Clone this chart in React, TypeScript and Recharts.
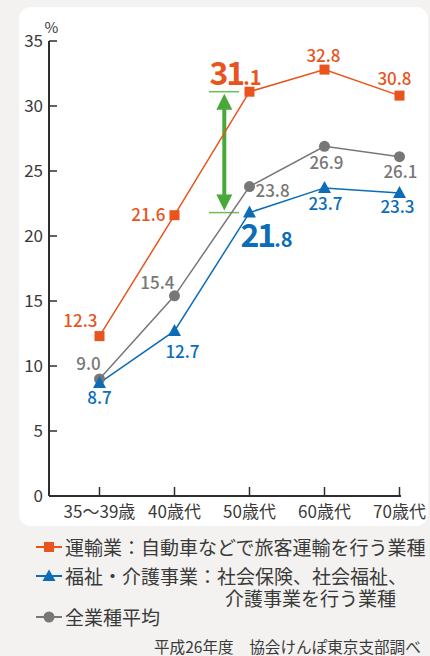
import React from "react";
import { LineChart, Line, XAxis, YAxis, ReferenceLine, LabelList } from "recharts";

// 年齢階級別 データ (%)
const categories = ["35～39歳", "40歳代", "50歳代", "60歳代", "70歳代"];
const transport = [12.3, 21.6, 31.1, 32.8, 30.8];
const welfare = [8.7, 12.7, 21.8, 23.7, 23.3];
const average = [9.0, 15.4, 23.8, 26.9, 26.1];
const yTicks = [0, 5, 10, 15, 20, 25, 30, 35];
const xTicks = [0, 1, 2, 3, 4];
const gapIndex = 2;

const legendLines = [
  "運輸業：自動車などで旅客運輸を行う業種",
  "福祉・介護事業：社会保険、社会福祉、",
  "介護事業を行う業種",
  "全業種平均",
];
const sourceNote = "平成26年度　協会けんぽ東京支部調べ";

const ORANGE = "#e9541c";
const BLUE = "#0b6db7";
const GRAY = "#777777";
const GREEN = "#48a838";
const LIGHT_GREEN = "#6fbd55";
const AXIS = "#2e2e2e";
const TEXT = "#3a3a3a";
const BG = "#f3f2f0";
const FONT = "'Noto Sans CJK JP', 'Noto Sans', sans-serif";

const data = categories.map((name, idx) => ({
  idx,
  name,
  transport: transport[idx],
  welfare: welfare[idx],
  average: average[idx],
}));

// label placement: [anchor, dx, dy]
type Pos = ["start" | "middle" | "end", number, number];
const transportPos: Pos[] = [
  ["end", -2, -9],
  ["end", -9, 6],
  ["start", -40, -7],
  ["middle", -1, -8],
  ["middle", -5, -11],
];
const averagePos: Pos[] = [
  ["middle", -11, -9],
  ["end", 0, -7],
  ["start", 6, 10],
  ["middle", 2, 23],
  ["middle", 1, 21],
];
const welfarePos: Pos[] = [
  ["middle", 0, 21],
  ["middle", 8, 27],
  ["start", -9, 34],
  ["middle", 1, 22],
  ["middle", -2, 20],
];

const makeLabel = (positions: Pos[], color: string, big: boolean) => (props: any) => {
  const { index, value } = props;
  const x = props.x ?? props.viewBox?.x;
  const y = props.y ?? props.viewBox?.y;
  if (x == null || y == null || value == null) return null;
  const [anchor, dx, dy] = positions[index];
  const txt = Number(value).toFixed(1);
  if (big && index === gapIndex) {
    const [a, b] = txt.split(".");
    return (
      <text x={x + dx} y={y + dy} textAnchor="start" fill={color} fontWeight={700} fontFamily={FONT}>
        <tspan fontSize={32} letterSpacing={-2}>{a}</tspan>
        <tspan fontSize={20}>.{b}</tspan>
      </text>
    );
  }
  return (
    <text x={x + dx} y={y + dy} textAnchor={anchor} fill={color} fontSize={17} fontWeight={500} fontFamily={FONT}>
      {txt}
    </text>
  );
};

const squareDot = (p: any) => (
  <rect key={`s-${p.index}`} x={p.cx - 5} y={p.cy - 5} width={10} height={10} fill={ORANGE} />
);
const triangleDot = (p: any) => (
  <polygon
    key={`t-${p.index}`}
    points={`${p.cx},${p.cy - 7} ${p.cx - 6.5},${p.cy + 5} ${p.cx + 6.5},${p.cy + 5}`}
    fill={BLUE}
  />
);
const circleDot = (p: any) => <circle key={`c-${p.index}`} cx={p.cx} cy={p.cy} r={5.5} fill={GRAY} />;

const XTick = (props: any) => {
  const { x, y, payload } = props;
  return (
    <g>
      <line x1={x} x2={x} y1={y} y2={y - 9} stroke={AXIS} strokeWidth={1.5} />
      <text x={x} y={y + 22} textAnchor="middle" fontSize={17} fill={TEXT} fontFamily={FONT}>
        {categories[payload.value]}
      </text>
    </g>
  );
};

const YTick = (props: any) => {
  const { x, y, payload } = props;
  return (
    <g>
      <line x1={x} x2={x + 8} y1={y} y2={y} stroke={AXIS} strokeWidth={1.5} />
      <text x={x - 6} y={y + 6} textAnchor="end" fontSize={17} fill={TEXT} fontFamily={FONT}>
        {payload.value}
      </text>
    </g>
  );
};

const GapArrow = (p: any) => {
  const { x1, y1, y2 } = p;
  if (x1 == null) return null;
  const top = Math.min(y1, y2) + 2;
  const bot = Math.max(y1, y2) - 2;
  const head = 16;
  const hw = 8;
  return (
    <g>
      <line x1={x1} x2={x1} y1={top + head - 2} y2={bot - head + 2} stroke={GREEN} strokeWidth={4} />
      <polygon points={`${x1},${top} ${x1 - hw},${top + head} ${x1 + hw},${top + head}`} fill={GREEN} />
      <polygon points={`${x1},${bot} ${x1 - hw},${bot - head} ${x1 + hw},${bot - head}`} fill={GREEN} />
    </g>
  );
};

const LegendMarker = ({ color, kind, cy }: { color: string; kind: string; cy: number }) => (
  <svg width={26} height={16} style={{ position: "absolute", left: 36, top: cy - 8 }}>
    <line x1={0} x2={26} y1={8} y2={8} stroke={color} strokeWidth={2} />
    {kind === "square" && <rect x={8} y={3} width={10} height={10} fill={color} />}
    {kind === "triangle" && <polygon points="13,1.5 6.5,13 19.5,13" fill={color} />}
    {kind === "circle" && <circle cx={13} cy={8} r={5.5} fill={color} />}
  </svg>
);

const legendText = (text: string, left: number, cy: number, size = 19) => (
  <div
    style={{
      position: "absolute",
      left,
      top: cy - 10,
      height: 20,
      lineHeight: "20px",
      fontSize: size,
      color: TEXT,
      whiteSpace: "nowrap",
      fontFamily: FONT,
    }}
  >
    {text}
  </div>
);

export default function App() {
  return (
    <div
      style={{
        position: "fixed",
        left: 0,
        top: 0,
        width: 430,
        height: 656,
        background: BG,
        overflow: "hidden",
        fontFamily: FONT,
      }}
    >
      <div
        style={{
          position: "absolute",
          left: 19,
          top: 7,
          width: 409,
          height: 519,
          background: "#ffffff",
          borderRadius: 12,
        }}
      />
      <div style={{ position: "absolute", left: 0, top: 0 }}>
        <LineChart width={430} height={656} data={data} margin={{ top: 41, right: 29, bottom: 159, left: 48 }}>
          <XAxis
            type="number"
            dataKey="idx"
            domain={[-0.6733, 4.02]}
            ticks={xTicks}
            interval={0}
            height={1}
            tickSize={0}
            tickMargin={0}
            tickLine={false}
            tick={<XTick />}
            axisLine={{ stroke: AXIS, strokeWidth: 2 }}
          />
          <YAxis
            type="number"
            domain={[0, 35]}
            ticks={yTicks}
            interval={0}
            width={1}
            tickSize={0}
            tickMargin={0}
            tickLine={false}
            tick={<YTick />}
            axisLine={{ stroke: AXIS, strokeWidth: 2 }}
            label={{ value: "%", position: "top", offset: 8, dx: 3, fontSize: 15, fill: TEXT, fontFamily: FONT }}
          />
          <ReferenceLine
            segment={[
              { x: 1.46, y: transport[gapIndex] },
              { x: 1.86, y: transport[gapIndex] },
            ]}
            stroke={LIGHT_GREEN}
            strokeWidth={1.5}
          />
          <ReferenceLine
            segment={[
              { x: 1.46, y: welfare[gapIndex] },
              { x: 1.86, y: welfare[gapIndex] },
            ]}
            stroke={LIGHT_GREEN}
            strokeWidth={1.5}
          />
          <ReferenceLine
            segment={[
              { x: 1.664, y: transport[gapIndex] },
              { x: 1.664, y: welfare[gapIndex] },
            ]}
            stroke={GREEN}
            shape={<GapArrow />}
          />
          <Line
            dataKey="average"
            stroke={GRAY}
            strokeWidth={1.5}
            dot={circleDot}
            activeDot={false}
            isAnimationActive={false}
          >
            <LabelList dataKey="average" content={makeLabel(averagePos, GRAY, false)} />
          </Line>
          <Line
            dataKey="welfare"
            stroke={BLUE}
            strokeWidth={1.5}
            dot={triangleDot}
            activeDot={false}
            isAnimationActive={false}
          >
            <LabelList dataKey="welfare" content={makeLabel(welfarePos, BLUE, true)} />
          </Line>
          <Line
            dataKey="transport"
            stroke={ORANGE}
            strokeWidth={1.5}
            dot={squareDot}
            activeDot={false}
            isAnimationActive={false}
          >
            <LabelList dataKey="transport" content={makeLabel(transportPos, ORANGE, true)} />
          </Line>
        </LineChart>
      </div>

      <LegendMarker color={ORANGE} kind="square" cy={547} />
      {legendText(legendLines[0], 65, 547)}
      <LegendMarker color={BLUE} kind="triangle" cy={576} />
      {legendText(legendLines[1], 65, 576)}
      {legendText(legendLines[2], 225, 598)}
      <LegendMarker color={GRAY} kind="circle" cy={617} />
      {legendText(legendLines[3], 65, 617)}
      {legendText(sourceNote, 154, 646, 15.6)}
    </div>
  );
}
